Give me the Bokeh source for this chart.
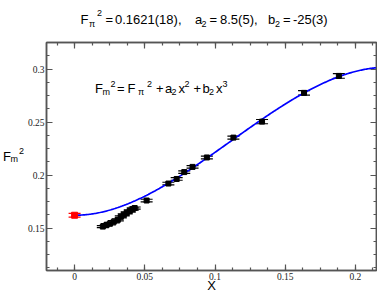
import numpy as np
from bokeh.plotting import figure
from bokeh.layouts import column, row
from bokeh.models import (Range1d, LinearAxis, FixedTicker, CustomJSTickFormatter,
                          Label, Whisker, ColumnDataSource, TeeHead)
from bokeh.embed import file_html
from bokeh.resources import INLINE

# ---------------- data ----------------
x_vals = [0.0201, 0.0229, 0.0251, 0.0279, 0.0308, 0.0329, 0.0350, 0.0371, 0.0393,
          0.0414, 0.0428, 0.0513, 0.0668, 0.0727, 0.0781, 0.0840, 0.0942, 0.1131,
          0.1335, 0.1634, 0.1882]
y_vals = [0.1514, 0.1532, 0.1541, 0.1560, 0.1578, 0.1606, 0.1625, 0.1643, 0.1661,
          0.1680, 0.1689, 0.1760, 0.1920, 0.1963, 0.2028, 0.2077, 0.2166, 0.2353,
          0.2504, 0.2775, 0.2935]
y_errs = [0.0010, 0.0010, 0.0010, 0.0010, 0.0010, 0.0010, 0.0010, 0.0010, 0.0010,
          0.0010, 0.0010, 0.0012, 0.0012, 0.0012, 0.0012, 0.0012, 0.0013, 0.0015,
          0.0020, 0.0022, 0.0022]
chiral_x = [0.0]
chiral_y = [0.1621]
chiral_err = [0.0018]
# fit parameters (unrounded estimates; shown rounded in the title)
fit_F2, fit_a2, fit_b2 = 0.1621, 8.47, -25.4
x_ticks = [0.0, 0.05, 0.1, 0.15, 0.2]
x_tick_labels = ["0", "0.05", "0.1", "0.15", "0.2"]
y_ticks = [0.15, 0.2, 0.25, 0.3]
y_tick_labels = ["0.15", "0.2", "0.25", "0.3"]
x_lim = (-0.02, 0.215)
y_lim = (0.11, 0.325)
x_label = "X"

# ---------------- layout (window pixels) ----------------
WIN_W, WIN_H = 377, 295
HT = 28          # title strip height
WY = 24          # y-label strip width
HM = WIN_H - HT
WM = WIN_W - WY
ML, MR, MT, MB = 20, 1, 14, 23
FL = WY + ML                 # frame left  (window)
FB = HT + HM - MB            # frame bottom (window)

AX = "#555555"
SANS = "Liberation Sans"
SERIF = "Liberation Serif"
BIG, SMALL = 13, 9


def strip(w, h, x0, y0):
    f = figure(width=w, height=h, output_backend="svg", toolbar_location=None,
               x_range=Range1d(x0, x0 + w), y_range=Range1d(y0 + h, y0),
               x_axis_location=None, y_axis_location=None,
               min_border=0, min_border_left=0, min_border_right=0,
               min_border_top=0, min_border_bottom=0,
               background_fill_color="white", border_fill_color="white")
    f.outline_line_color = None
    for g in f.grid:
        g.visible = False
    return f


def put_data(fig, text, wx, wy, size, align="left"):
    fig.add_layout(Label(x=wx, y=wy, text=text, text_font=SANS,
                         text_font_size=f"{size}px", text_color="black",
                         text_baseline="alphabetic", text_align=align))


# ---------------- main figure ----------------
p = figure(width=WM, height=HM, output_backend="svg", toolbar_location=None,
           x_range=Range1d(*x_lim), y_range=Range1d(*y_lim),
           x_axis_location=None, y_axis_location=None,
           min_border_left=ML, min_border_right=MR, min_border_top=MT, min_border_bottom=MB,
           background_fill_color="white", border_fill_color="white")
p.outline_line_color = AX
p.outline_line_width = 1.5
for g in p.grid:
    g.visible = False


def minor_list(lo, hi, step):
    return [round(v, 6) for v in np.arange(lo, hi + 1e-9, step)]


fmt_js = """
let b = 0;
for (let i = 0; i < t.length; i++) { if (Math.abs(t[i] - tick) < Math.abs(t[b] - tick)) b = i; }
return l[b];
"""


def make_axis(ticks, labels, minors, show_labels):
    ax = LinearAxis(ticker=FixedTicker(ticks=ticks, minor_ticks=minors),
                    formatter=CustomJSTickFormatter(args=dict(t=ticks, l=labels), code=fmt_js))
    ax.axis_line_color = AX
    ax.axis_line_width = 1.5
    ax.major_tick_line_color = AX
    ax.minor_tick_line_color = AX
    ax.major_tick_line_width = 1.2
    ax.minor_tick_line_width = 1.2
    ax.major_tick_in = 6
    ax.major_tick_out = 0
    ax.minor_tick_in = 3
    ax.minor_tick_out = 0
    ax.major_label_text_font = SERIF
    if show_labels:
        ax.major_label_text_color = "#222222"
        ax.major_label_text_font_size = "9.5px"
        ax.major_label_standoff = 2
    else:
        ax.major_label_text_color = None
        ax.major_label_text_font_size = "0px"
        ax.major_label_standoff = 0
    return ax


xminors = minor_list(-0.0125, 0.2125, 0.0125)
yminors = minor_list(0.1125, 0.325, 0.0125)
xb = make_axis(x_ticks, x_tick_labels, xminors, True)
xb.axis_label = x_label
xb.axis_label_text_font = SANS
xb.axis_label_text_font_style = "normal"
xb.axis_label_text_font_size = f"{BIG}px"
xb.axis_label_text_color = "black"
xb.axis_label_standoff = -5
p.add_layout(xb, "below")
p.add_layout(make_axis(x_ticks, x_tick_labels, xminors, False), "above")
p.add_layout(make_axis(y_ticks, y_tick_labels, yminors, True), "left")
p.add_layout(make_axis(y_ticks, y_tick_labels, yminors, False), "right")

# fit curve
xc = np.linspace(0.0, x_lim[1], 300)
yc = fit_F2 + fit_a2 * xc ** 2 + fit_b2 * xc ** 3
p.line(xc, yc, line_color="#0000ff", line_width=1.7)

# data points with error bars
src = ColumnDataSource(dict(x=x_vals, y=y_vals,
                            lo=[y - e for y, e in zip(y_vals, y_errs)],
                            hi=[y + e for y, e in zip(y_vals, y_errs)]))
p.add_layout(Whisker(base="x", lower="lo", upper="hi", source=src, dimension="height",
                     line_color="black", line_width=1,
                     upper_head=TeeHead(size=12, line_color="black", line_width=1.2),
                     lower_head=TeeHead(size=12, line_color="black", line_width=1.2)))
p.scatter("x", "y", source=src, marker="square", size=5, color="black")

src0 = ColumnDataSource(dict(x=chiral_x, y=chiral_y,
                             lo=[y - e for y, e in zip(chiral_y, chiral_err)],
                             hi=[y + e for y, e in zip(chiral_y, chiral_err)]))
p.add_layout(Whisker(base="x", lower="lo", upper="hi", source=src0, dimension="height",
                     line_color="#ff0000", line_width=1,
                     upper_head=TeeHead(size=12, line_color="#ff0000", line_width=1.2),
                     lower_head=TeeHead(size=12, line_color="#ff0000", line_width=1.2)))
p.scatter("x", "y", source=src0, marker="square", size=6, color="#ff0000")

# formula inside the plot (window coords -> frame-relative screen units)
formula_runs = [("F", 92.5, 90.3, BIG), ("m", 100, 93, SMALL), ("2", 108, 85, SMALL),
                ("=", 114.5, 90.3, BIG), ("F", 125, 90.3, BIG), ("π", 135.5, 93, SMALL),
                ("2", 144.5, 85, SMALL), ("+", 153.5, 90.3, BIG), ("a", 162.5, 90.3, BIG),
                ("2", 169, 93.5, SMALL), ("x", 176, 90.3, BIG), ("2", 182, 85, SMALL),
                ("+", 191, 90.3, BIG), ("b", 200, 90.3, BIG), ("2", 206.5, 93.5, SMALL),
                ("x", 213.5, 90.3, BIG), ("3", 220, 85, SMALL)]
for txt, wx, wy, s in formula_runs:
    p.add_layout(Label(x=wx - FL, y=FB - wy, x_units="screen", y_units="screen",
                       text=txt, text_font=SANS, text_font_size=f"{s}px",
                       text_color="black", text_baseline="alphabetic", text_align="left"))

# ---------------- title strip ----------------
t_fig = strip(WIN_W, HT, 0, 0)
title_runs = [("F", 80, 18.5, BIG), ("π", 88.5, 23.5, SMALL), ("2", 96.5, 12.5, SMALL),
              ("=", 105, 18.5, BIG), ("0.1621(18),", 114.5, 18.5, BIG),
              ("a", 194.5, 18.5, BIG), ("2", 201, 23, SMALL),
              ("=", 209, 18.5, BIG), ("8.5(5),", 219.5, 18.5, BIG),
              ("b", 267.5, 18.5, BIG), ("2", 274.5, 23, SMALL),
              ("=", 282.5, 18.5, BIG), ("-25(3)", 292.5, 18.5, BIG)]
for txt, wx, wy, s in title_runs:
    put_data(t_fig, txt, wx, wy, s)

# ---------------- y-label strip ----------------
y_fig = strip(WY, HM, 0, HT)
for txt, wx, wy, s in [("F", 2.5, 162, BIG), ("m", 10, 164.5, SMALL), ("2", 18.5, 155, SMALL)]:
    put_data(y_fig, txt, wx, wy, s)

layout = column(t_fig, row(y_fig, p, spacing=0), spacing=0)
open("out.html", "w").write(file_html(layout, INLINE))
